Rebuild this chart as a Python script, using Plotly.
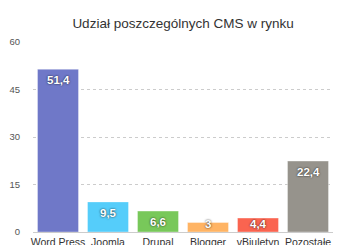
import plotly.graph_objects as go

categories = ["Word Press", "Joomla", "Drupal", "Blogger", "vBiuletyn", "Pozostałe"]
values = [51.4, 9.5, 6.6, 3, 4.4, 22.4]
colors = ["#6f78c8", "#55cdfa", "#78c85a", "#ffb464", "#fa6450", "#96938c"]
y_ticks = [0, 15, 30, 45, 60]
title_text = "Udział poszczególnych CMS w rynku"

FONT = "Liberation Sans, Arial, sans-serif"
labels = [f"{v:g}".replace(".", ",") for v in values]

plot_h = 245 - 42 - 13
px_per_unit = plot_h / 60.0

fig = go.Figure(go.Bar(
    x=categories,
    y=values,
    marker=dict(color=colors, line=dict(color="rgba(255,255,255,0.35)", width=1)),
    width=0.82,
    hoverinfo="skip",
))

for c, v, t in zip(categories, values, labels):
    big = v * px_per_unit >= 16
    fig.add_annotation(x=c, y=v if big else 0, yanchor="top" if big else "bottom",
                       yshift=-3 if big else 0, text=t, showarrow=False,
                       font=dict(family=FONT, size=11.5, color="white", weight="bold",
                                 shadow="0px 0px 2px rgba(0,0,0,0.85)"))

fig.update_layout(
    width=350, height=245,
    margin=dict(l=33, r=17, t=42, b=13),
    paper_bgcolor="white", plot_bgcolor="white",
    font=dict(family=FONT, color="#333"),
    title=dict(text=title_text, x=0.523, xanchor="center", y=0.905, yanchor="middle",
               font=dict(size=13.5, color="#333")),
    showlegend=False,
    bargap=0.18,
)
fig.update_xaxes(
    showgrid=False, showline=True, linecolor="#cccccc", linewidth=1,
    tickfont=dict(size=10.5, color="#333"), automargin=False, fixedrange=True,
    ticklabelstandoff=0,
)
fig.update_yaxes(
    range=[0, 60], tickvals=y_ticks, showgrid=True, gridcolor="#cccccc", griddash="dot",
    gridwidth=1, zeroline=False, showline=False,
    tickfont=dict(size=9.5, color="#555"), automargin=False, fixedrange=True,
    ticklabelstandoff=12,
)

fig.write_html("out.html")
